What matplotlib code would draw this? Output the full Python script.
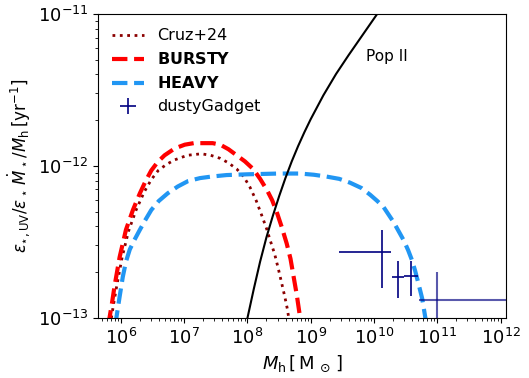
import matplotlib
matplotlib.use("Agg")
import matplotlib.pyplot as plt
import numpy as np

# curves, stored as log10(Mh), log10(y)
bursty_logm = [5.80, 5.86, 5.90, 5.98, 6.08, 6.19, 6.30, 6.39, 6.48, 6.58, 6.69, 6.85, 7.01, 7.15, 7.32,
               7.45, 7.57, 7.70, 7.83, 7.96, 8.09, 8.20, 8.31, 8.39, 8.46, 8.54, 8.62, 8.68, 8.73, 8.78, 8.84]
bursty_logy = [-13.05, -12.90, -12.79, -12.60, -12.42, -12.29, -12.18, -12.10, -12.03, -11.975, -11.93, -11.885, -11.86, -11.85, -11.85,
               -11.85, -11.86, -11.89, -11.93, -11.97, -12.02, -12.085, -12.16, -12.225, -12.30, -12.40, -12.51, -12.61, -12.73, -12.85, -13.02]

cruz_logm = [5.83, 5.88, 5.93, 6.02, 6.12, 6.24, 6.37, 6.48, 6.59, 6.72, 6.85, 7.05, 7.27,
             7.42, 7.57, 7.70, 7.83, 7.94, 8.04, 8.14, 8.23, 8.30, 8.36, 8.43, 8.49, 8.54, 8.59, 8.63, 8.66]
cruz_logy = [-13.05, -12.92, -12.80, -12.60, -12.43, -12.29, -12.17, -12.09, -12.03, -11.99, -11.96, -11.93, -11.92,
             -11.93, -11.95, -11.98, -12.02, -12.07, -12.14, -12.23, -12.33, -12.41, -12.49, -12.58, -12.68, -12.77, -12.86, -12.94, -13.02]

heavy_logm = [5.91, 5.98, 6.03, 6.08, 6.14, 6.21, 6.30, 6.38, 6.48, 6.60, 6.74, 6.90, 7.06, 7.25, 7.43, 7.67,
              8.0, 8.5, 8.83, 9.05, 9.25, 9.45, 9.62, 9.80, 9.94, 10.05, 10.15, 10.23, 10.31, 10.39,
              10.47, 10.54, 10.60, 10.65, 10.70, 10.76, 10.82]
heavy_logy = [-13.05, -12.86, -12.73, -12.63, -12.55, -12.49, -12.42, -12.36, -12.29, -12.23, -12.18, -12.135, -12.10, -12.08, -12.07, -12.06,
              -12.055, -12.05, -12.05, -12.058, -12.07, -12.085, -12.11, -12.145, -12.19, -12.23, -12.27, -12.32, -12.37, -12.43,
              -12.49, -12.555, -12.62, -12.69, -12.77, -12.87, -13.02]

pop2_logm = [7.99, 8.1, 8.2, 8.3, 8.4, 8.5, 8.6, 8.7, 8.8, 8.9, 9.0, 9.2, 9.4, 9.6, 9.8, 10.05]
pop2_logy = [-13.02, -12.81, -12.63, -12.47, -12.33, -12.20, -12.08, -11.97, -11.87, -11.778, -11.692,
             -11.535, -11.395, -11.27, -11.15, -11.0]

# dustyGadget points (log10)
dg_logm = [10.134, 10.378, 10.584]
dg_logm_lo = [9.454, 10.277, 10.467]
dg_logm_hi = [10.27, 10.467, 10.694]
dg_logy = [-12.568, -12.732, -12.724]
dg_logy_lo = [-12.80, -12.870, -12.857]
dg_logy_hi = [-12.421, -12.625, -12.625]

# last dustyGadget bin
dg4_logm, dg4_logm_lo, dg4_logm_hi = 10.995, 10.704, 12.5
dg4_logy, dg4_logy_lo, dg4_logy_hi = -12.88, -13.4, -12.695


def p(a):
    return 10 ** np.array(a)


fig = plt.figure(figsize=(5.29, 3.78), dpi=100)
ax = fig.add_axes([0.185, 0.159, 0.772, 0.804])

ax.plot(p(cruz_logm), p(cruz_logy), ls=':', color='darkred', lw=2, label='Cruz+24')
ax.plot(p(bursty_logm), p(bursty_logy), ls='--', color='red', lw=3, label=r'$\bf{BURSTY}$')
ax.plot(p(heavy_logm), p(heavy_logy), ls='--', color='#2196f3', lw=3, label=r'$\bf{HEAVY}$')
ax.plot(p(pop2_logm), p(pop2_logy), color='black', lw=1.5)

x, y = p(dg_logm), p(dg_logy)
xerr = [x - p(dg_logm_lo), p(dg_logm_hi) - x]
yerr = [y - p(dg_logy_lo), p(dg_logy_hi) - y]
ax.errorbar(x, y, xerr=xerr, yerr=yerr, fmt='none', ecolor='navy', elinewidth=1.2,
            label='dustyGadget')
x4, y4 = 10 ** dg4_logm, 10 ** dg4_logy
ax.errorbar([x4], [y4],
            xerr=[[x4 - 10 ** dg4_logm_lo], [10 ** dg4_logm_hi - x4]],
            yerr=[[y4 - 10 ** dg4_logy_lo], [10 ** dg4_logy_hi - y4]],
            fmt='none', ecolor='navy', elinewidth=1.5, alpha=0.65)

ax.text(10 ** 9.87, 10 ** -11.28, 'Pop II', va='center', fontsize=11)

ax.set_xscale('log')
ax.set_yscale('log')
ax.set_xlim(10 ** 5.636, 10 ** 12.09)
ax.set_ylim(1e-13, 1e-11)
ax.set_xticks([1e6, 1e7, 1e8, 1e9, 1e10, 1e11, 1e12])
ax.tick_params(labelsize=13)
ax.set_xlabel(r'$M_{\rm h}\,[\,{\rm M}_{\,\odot}\,]$', fontsize=13)
ax.set_ylabel(r'$\varepsilon_{\star,\rm UV}/\varepsilon_\star\,\dot{M}_\star/M_{\rm h}\,[{\rm yr}^{-1}]$',
              fontsize=12)
ax.legend(loc='upper left', frameon=False, fontsize=11.5)

fig.savefig('out.png', dpi=100)
